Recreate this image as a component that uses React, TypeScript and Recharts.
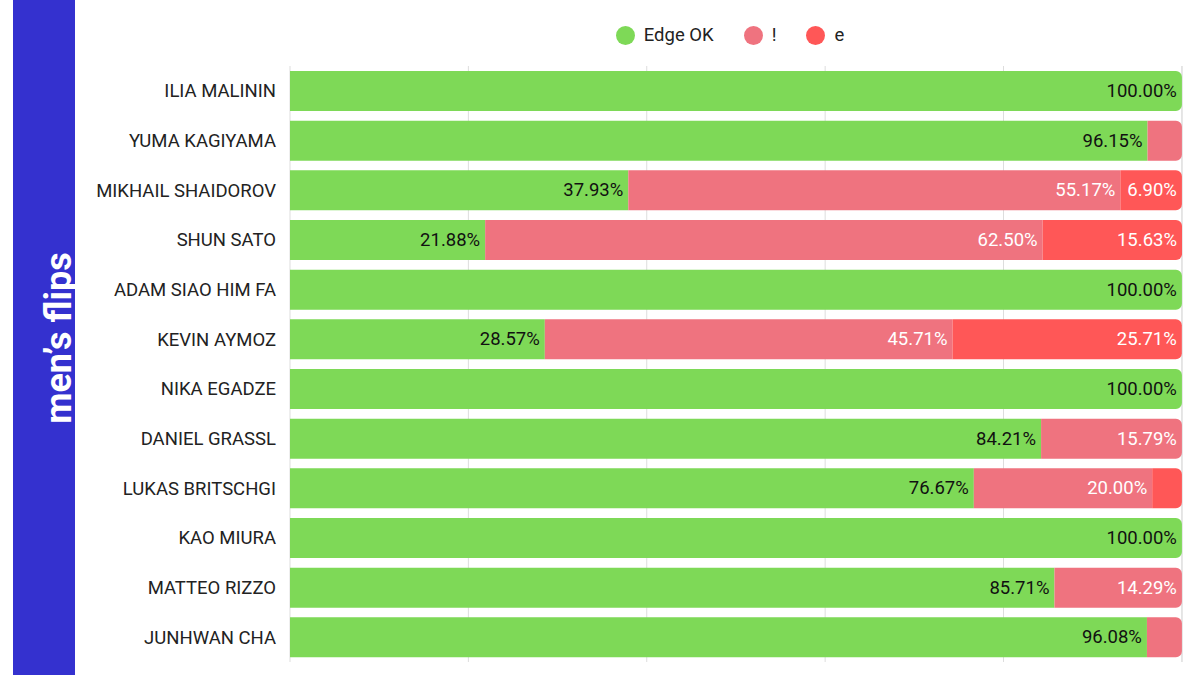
import React from 'react';
import {
  BarChart,
  Bar,
  XAxis,
  YAxis,
  CartesianGrid,
  Legend,
  LabelList,
  Rectangle,
} from 'recharts';

const skaters = [
  'ILIA MALININ',
  'YUMA KAGIYAMA',
  'MIKHAIL SHAIDOROV',
  'SHUN SATO',
  'ADAM SIAO HIM FA',
  'KEVIN AYMOZ',
  'NIKA EGADZE',
  'DANIEL GRASSL',
  'LUKAS BRITSCHGI',
  'KAO MIURA',
  'MATTEO RIZZO',
  'JUNHWAN CHA',
];

const edgeOk = [100, 96.15, 37.93, 21.88, 100, 28.57, 100, 84.21, 76.67, 100, 85.71, 96.08];
const unclear = [0, 3.85, 55.17, 62.5, 0, 45.71, 0, 15.79, 20.0, 0, 14.29, 3.92];
const wrongEdge = [0, 0, 6.9, 15.63, 0, 25.71, 0, 0, 3.33, 0, 0, 0];

const xTicks = [0, 20, 40, 60, 80, 100];

const series = [
  { key: 'ok', name: 'Edge OK', color: '#7ed957', text: '#111' },
  { key: 'warn', name: '!', color: '#ef737f', text: '#fff' },
  { key: 'e', name: 'e', color: '#ff5757', text: '#fff' },
];

const data = skaters.map((name, i) => ({
  name,
  ok: edgeOk[i],
  warn: unclear[i],
  e: wrongEdge[i],
}));

const FONT = 'Roboto, "Noto Sans", sans-serif';
const FONT_SIZE = 18.5;

// only the outermost non-empty segment of a row gets rounded ends
const makeShape = (idx: number) => (props: any) => {
  const { x, y, width, height, fill, payload } = props;
  if (!width || width <= 0) return <g />;
  const rest = series.slice(idx + 1).some((s) => (payload?.[s.key] ?? 0) > 0);
  return (
    <Rectangle
      x={x}
      y={y}
      width={width}
      height={height}
      fill={fill}
      radius={rest ? 0 : [0, 6, 6, 0]}
    />
  );
};

const makeLabel = (color: string) => (props: any) => {
  const { x, y, width, height, value } = props;
  if (value == null || value < 5) return null;
  return (
    <text
      x={x + width - 5}
      y={y + height / 2}
      textAnchor="end"
      dominantBaseline="central"
      fill={color}
      fontSize={FONT_SIZE}
      fontFamily={FONT}
    >
      {`${Number(value).toFixed(2)}%`}
    </text>
  );
};

const LegendRow = () => (
  <div
    style={{
      display: 'flex',
      justifyContent: 'center',
      alignItems: 'center',
      fontFamily: FONT,
      fontSize: FONT_SIZE,
      color: '#222',
    }}
  >
    {series.map((s) => (
      <div key={s.key} style={{ display: 'flex', alignItems: 'center', margin: '0 15px' }}>
        <span
          style={{
            width: 19,
            height: 19,
            borderRadius: '50%',
            background: s.color,
            display: 'inline-block',
            marginRight: 9,
          }}
        />
        <span>{s.name}</span>
      </div>
    ))}
  </div>
);

export default function App() {
  return (
    <div
      style={{
        position: 'absolute',
        left: 0,
        top: 0,
        width: 1200,
        height: 675,
        background: '#fff',
        overflow: 'hidden',
      }}
    >
      <div
        style={{
          position: 'absolute',
          left: 13,
          top: 0,
          width: 62,
          height: 675,
          background: '#3431cf',
        }}
      >
        <div
          style={{
            position: 'absolute',
            left: 46,
            top: 338,
            transform: 'translate(-50%, -50%) rotate(-90deg)',
            whiteSpace: 'nowrap',
            color: '#fff',
            fontFamily: FONT,
            fontWeight: 700,
            fontSize: 36,
          }}
        >
          men’s flips
        </div>
      </div>
      <BarChart
        width={1200}
        height={675}
        data={data}
        layout="vertical"
        margin={{ top: 44, right: 18, bottom: 13, left: 90 }}
        barCategoryGap="10%"
      >
        <CartesianGrid horizontal={false} stroke="#dddddd" />
        <XAxis type="number" domain={[0, 100]} ticks={xTicks} hide />
        <YAxis
          type="category"
          dataKey="name"
          width={200}
          axisLine={false}
          tickLine={false}
          tickSize={0}
          tickMargin={14}
          tick={{ fontSize: FONT_SIZE, fill: '#222', fontFamily: FONT }}
        />
        <Legend
          verticalAlign="top"
          height={22}
          content={() => <LegendRow />}
          wrapperStyle={{ top: 24, left: 284, width: 892 }}
        />
        {series.map((s, i) => (
          <Bar
            key={s.key}
            dataKey={s.key}
            name={s.name}
            stackId="flips"
            fill={s.color}
            shape={makeShape(i)}
            isAnimationActive={false}
          >
            <LabelList dataKey={s.key} content={makeLabel(s.text)} />
          </Bar>
        ))}
      </BarChart>
    </div>
  );
}
